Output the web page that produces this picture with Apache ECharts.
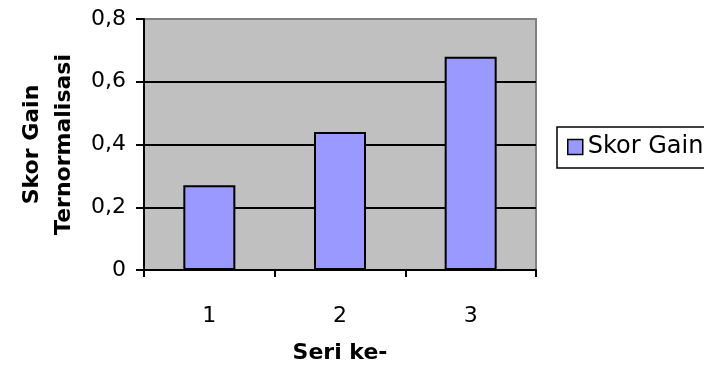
<!DOCTYPE html>
<html>
<head>
<meta charset="utf-8">
<script src="https://cdn.jsdelivr.net/npm/echarts@6/dist/echarts.min.js"></script>
<style>
  html, body { margin: 0; padding: 0; background: #ffffff; }
  #chart { width: 704px; height: 369px; }
</style>
</head>
<body>
<div id="chart"></div>
<script>
// Normalised gain score per series
const categories = ['1', '2', '3'];
const gainScores = [0.27, 0.44, 0.68];
const seriesName = 'Skor Gain';
const yAxisTitle = 'Skor Gain\nTernormalisasi';
const xAxisTitle = 'Seri ke-';
const yMin = 0, yMax = 0.8, yStep = 0.2;

const FONT = '"DejaVu Sans", sans-serif';

const chart = echarts.init(document.getElementById('chart'), null, { renderer: 'canvas' });

chart.setOption({
  animation: false,
  backgroundColor: '#ffffff',
  textStyle: { fontFamily: FONT, color: '#000' },
  grid: {
    left: 144, right: 168, top: 19, bottom: 95,
    show: true,
    backgroundColor: '#c0c0c0',
    borderColor: '#808080',
    borderWidth: 2
  },
  legend: {
    data: [seriesName],
    orient: 'vertical',
    left: 557, top: 127,
    padding: [8, 12, 9, 10],
    borderColor: '#000', borderWidth: 1.5,
    itemWidth: 15, itemHeight: 15, itemGap: 6,
    icon: 'rect',
    itemStyle: { borderColor: '#000', borderWidth: 1.5 },
    textStyle: { fontFamily: FONT, fontSize: 24, color: '#000' }
  },
  xAxis: {
    type: 'category',
    data: categories,
    name: xAxisTitle,
    nameLocation: 'middle',
    nameGap: 72,
    nameTextStyle: { fontFamily: FONT, fontSize: 22, fontWeight: 'bold', color: '#000' },
    axisLine: { lineStyle: { color: '#000', width: 2 } },
    axisTick: { show: true, length: 7, lineStyle: { color: '#000', width: 2 } },
    axisLabel: { fontFamily: FONT, fontSize: 22, color: '#000', margin: 35 },
    splitLine: { show: false }
  },
  yAxis: {
    type: 'value',
    min: yMin, max: yMax, interval: yStep,
    name: yAxisTitle,
    nameLocation: 'middle',
    nameRotate: 90,
    nameGap: 57,
    nameTextStyle: { fontFamily: FONT, fontSize: 22, fontWeight: 'bold', color: '#000', lineHeight: 32 },
    axisLine: { show: true, lineStyle: { color: '#000', width: 2 } },
    axisTick: { show: true, length: 8, lineStyle: { color: '#000', width: 2 } },
    axisLabel: {
      fontFamily: FONT, fontSize: 22, color: '#000', margin: 18,
      formatter: v => (Math.round(v * 10) / 10).toString().replace('.', ',')
    },
    splitLine: { show: true, showMinLine: false, showMaxLine: false, lineStyle: { color: '#000', width: 2 } }
  },
  series: [{
    name: seriesName,
    type: 'bar',
    data: gainScores,
    barWidth: 52,
    itemStyle: { color: '#9999ff', borderColor: '#000', borderWidth: 2 }
  }]
});
</script>
</body>
</html>
